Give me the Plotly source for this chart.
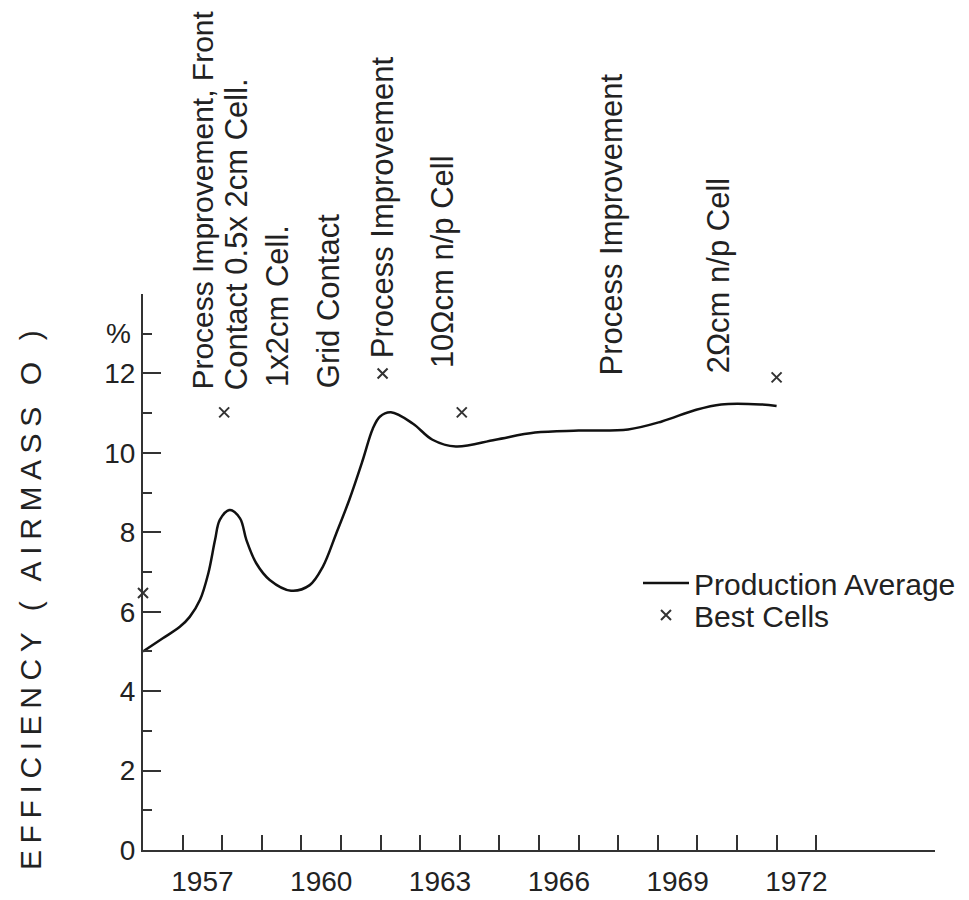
import plotly.graph_objects as go

# ---- data ----
prod_years = [1956.0, 1956.5, 1956.93, 1957.18, 1957.44, 1957.65, 1957.82, 1957.94, 1958.19,
              1958.45, 1958.61, 1958.86, 1959.2, 1959.74, 1960.21, 1960.54, 1960.88, 1961.21,
              1961.55, 1961.8, 1961.98, 1962.26, 1962.81, 1963.31, 1963.9, 1964.9, 1965.9,
              1967.0, 1968.25, 1969.1, 1969.95, 1970.6, 1971.6, 1972.0]
prod_eff = [5.0, 5.33, 5.62, 5.87, 6.30, 6.97, 7.81, 8.31, 8.56,
            8.35, 7.81, 7.22, 6.80, 6.53, 6.67, 7.13, 7.97, 8.82,
            9.82, 10.6, 10.91, 11.02, 10.74, 10.33, 10.16, 10.33, 10.51,
            10.56, 10.59, 10.79, 11.08, 11.22, 11.22, 11.18]

best_years = [1956.0, 1958.05, 1962.05, 1964.05, 1972.0]
best_eff = [6.47, 11.02, 12.0, 11.02, 11.9]

x_tick_labels = ["1957", "1960", "1963", "1966", "1969", "1972"]
x_tick_pos = [1957.5, 1960.5, 1963.5, 1966.5, 1969.5, 1972.5]
x_minor_ticks = list(range(1957, 1974))
y_major_ticks = [0, 2, 4, 6, 8, 10, 12, 14]
y_major_labels = ["0", "2", "4", "6", "8", "10", "12", ""]
y_minor_ticks = [1, 3, 5, 7, 9, 11, 13]

event_labels = ["Process Improvement, Front", "Contact 0.5x 2cm Cell.", "1x2cm Cell.",
                "Grid Contact", "Process Improvement", "10\u03a9cm n/p Cell",
                "Process Improvement", "2\u03a9cm n/p Cell"]
event_x = [1957.50, 1958.36, 1959.40, 1960.69, 1962.05, 1963.57, 1967.83, 1970.54]
event_y = [11.54, 11.54, 11.60, 11.57, 12.32, 12.09, 11.91, 11.96]
event_font = [30, 31, 31, 31, 31, 31, 31, 31]

FONT = "Liberation Sans, Arial, sans-serif"
INK = "#222222"

fig = go.Figure()
fig.add_trace(go.Scatter(
    x=prod_years, y=prod_eff, mode="lines", name="Production Average",
    line=dict(color="#111111", width=2.5, shape="spline", smoothing=1.0),
    cliponaxis=False, legend="legend"))
fig.add_trace(go.Scatter(
    x=best_years, y=best_eff, mode="markers", name="Best Cells",
    marker=dict(symbol="x-thin-open", size=10, color="#333333",
                line=dict(width=2, color="#333333")),
    cliponaxis=False, legend="legend2"))

annotations = []
for lbl, ex, ey, fs in zip(event_labels, event_x, event_y, event_font):
    annotations.append(dict(x=ex, y=ey, xref="x", yref="y", text=lbl, textangle=-90,
                            showarrow=False, xanchor="center", yanchor="bottom",
                            font=dict(family=FONT, size=fs, color=INK)))
annotations.append(dict(x=0, y=13, xref="paper", yref="y", text="%", showarrow=False,
                        xanchor="right", yanchor="middle", xshift=-10,
                        font=dict(family=FONT, size=28, color=INK)))
annotations.append(dict(x=-0.1427, y=0.455, xref="paper", yref="paper",
                        text='<span style="letter-spacing:6.6px">EFFICIENCY ( AIRMASS O )</span>',
                        textangle=-90, showarrow=False, xanchor="center", yanchor="middle",
                        font=dict(family=FONT, size=30, color=INK)))

legend_common = dict(xanchor="left", yanchor="middle", bgcolor="rgba(0,0,0,0)",
                     font=dict(family=FONT, size=30, color=INK), itemwidth=46)

fig.update_layout(
    width=961, height=892,
    margin=dict(l=135, r=34, t=286, b=50, autoexpand=False),
    paper_bgcolor="white", plot_bgcolor="white",
    showlegend=True,
    legend=dict(x=0.625, y=0.4802, **legend_common),
    legend2=dict(x=0.625, y=0.4227, **legend_common),
    annotations=annotations,
    xaxis=dict(range=[1956, 1976], showgrid=False, zeroline=False,
               showline=True, linecolor="#333333", linewidth=2,
               tickmode="array", tickvals=x_tick_pos, ticktext=x_tick_labels,
               ticks="", ticklabelstandoff=5, automargin=False,
               tickfont=dict(family=FONT, size=28, color=INK),
               minor=dict(tickmode="array", tickvals=x_minor_ticks, ticks="inside",
                          ticklen=15, tickwidth=2, tickcolor="#333333", showgrid=False)),
    yaxis=dict(range=[0, 14], showgrid=False, zeroline=False,
               showline=True, linecolor="#333333", linewidth=2,
               tickmode="array", tickvals=y_major_ticks, ticktext=y_major_labels,
               ticks="inside", ticklen=18, tickwidth=2, tickcolor="#333333",
               automargin=False,
               tickfont=dict(family=FONT, size=28, color=INK),
               minor=dict(tickmode="array", tickvals=y_minor_ticks, ticks="inside",
                          ticklen=9, tickwidth=2, tickcolor="#333333", showgrid=False)),
)

fig.write_html("out.html")
